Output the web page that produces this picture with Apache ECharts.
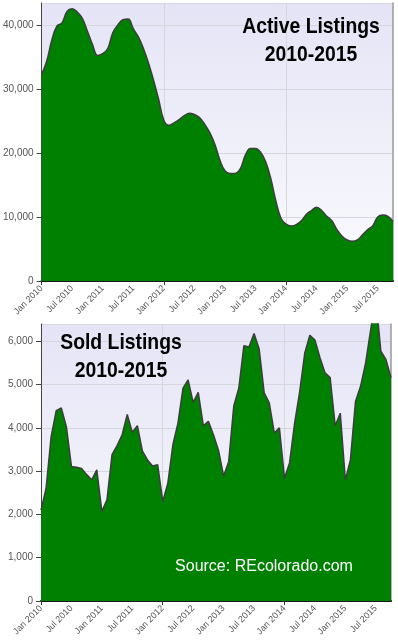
<!DOCTYPE html>
<html>
<head>
<meta charset="utf-8">
<title>Active / Sold Listings 2010-2015</title>
<script src="https://cdn.jsdelivr.net/npm/echarts@6/dist/echarts.min.js"></script>
<style>
  html, body { margin: 0; padding: 0; background: #fff; }
  #chart { width: 398px; height: 640px; }
</style>
</head>
<body>
<div id="chart"></div>
<script>
  // month labels, Jan 2010 .. Oct 2015
  const monthNames = ['Jan', 'Feb', 'Mar', 'Apr', 'May', 'Jun', 'Jul', 'Aug', 'Sep', 'Oct', 'Nov', 'Dec']
  const years = [2010, 2011, 2012, 2013, 2014, 2015]
  const categories = []
  years.forEach(y => monthNames.forEach(m => categories.push(m + ' ' + y)))
  categories.length = 70

  // active listings per month
  const activeListings = [
    32200, 34300, 37600, 39800, 40300, 42100, 42500, 42000, 41000, 39000, 36900, 35200,
    35500, 36300, 38800, 40000, 40800, 40900, 39400, 38100, 36300, 34000, 31300, 28300,
    25100, 24300, 24700, 25200, 25800, 26200, 26000, 25500, 24500, 23200, 21400, 18900,
    17200, 16800, 16800, 17500, 19600, 20700, 20700, 20100, 18600, 16000, 12500, 9800,
    8900, 8600, 8800, 9400, 10400, 11000, 11500, 11000, 10100, 9400, 8000, 7000,
    6400, 6200, 6400, 7200, 8000, 8600, 10000, 10300, 10100, 9300
  ]

  // sold listings per month
  const soldListings = [
    2100, 2600, 3800, 4400, 4460, 4030, 3110, 3090, 3060, 2920, 2800, 3030,
    2070, 2340, 3380, 3590, 3840, 4310, 3900, 4050, 3460, 3260, 3120, 3150,
    2300, 2720, 3610, 4110, 4920, 5110, 4590, 4820, 4050, 4150, 3840, 3480,
    2890, 3220, 4500, 4920, 5900, 5870, 6180, 5830, 4810, 4580, 3880, 4000,
    2840, 3190, 4110, 4840, 5730, 6140, 6030, 5620, 5270, 5160, 4050, 4340,
    2800, 3260, 4610, 4960, 5500, 6270, 7000, 5770, 5580, 5160
  ]

  // axis ranges
  const activeMax = 43400
  const activeStep = 10000
  const soldMax = 6400
  const soldStep = 1000

  const fontFamily = 'Arial, sans-serif'
  const gridLineColor = '#d6d6de'

  const chart = echarts.init(document.getElementById('chart'))

  const plotBg = new echarts.graphic.LinearGradient(0, 0, 0, 1, [
    { offset: 0, color: '#e4e4f6' },
    { offset: 1, color: '#fbfbfe' }
  ])

  // x轴
  const makeXAxis = (gridIndex) => ({
    type: 'category',
    gridIndex,
    data: categories,
    boundaryGap: false,
    axisLine: { lineStyle: { color: '#1a1a1a', width: 2 } },
    axisTick: { interval: (i) => i % 24 === 0, length: 4, lineStyle: { color: '#333' } },
    axisLabel: { interval: 5, rotate: 45, fontSize: 9, color: '#555', margin: 6, fontFamily },
    splitLine: { show: true, interval: (i) => i % 24 === 0, lineStyle: { color: gridLineColor } }
  })

  // y轴
  const makeYAxis = (gridIndex, max, step) => ({
    type: 'value',
    gridIndex,
    min: 0,
    max,
    interval: step,
    axisLine: { show: true, lineStyle: { color: '#444' } },
    axisTick: { show: true, length: 5, lineStyle: { color: '#444' } },
    axisLabel: { showMaxLabel: false, color: '#555', fontSize: 10, margin: 8, fontFamily },
    splitLine: { lineStyle: { color: gridLineColor } }
  })

  // right border of each plot
  const makeBorderAxis = (gridIndex, max) => ({
    type: 'value',
    gridIndex,
    position: 'right',
    min: 0,
    max,
    axisLine: { show: true, lineStyle: { color: '#9a9a9a', width: 1.5 } },
    axisTick: { show: false },
    axisLabel: { show: false },
    splitLine: { show: false }
  })

  const areaSeries = (idx, data, smooth) => ({
    type: 'line',
    xAxisIndex: idx,
    yAxisIndex: idx,
    data,
    smooth,
    symbol: 'none',
    lineStyle: { color: '#3d3d3d', width: 1.5 },
    areaStyle: { color: '#008000', opacity: 1 },
    z: 2
  })

  // title text is a bit condensed in the original
  const titleStyle = (text) => ({
    text, fill: '#000', fontFamily, fontSize: 22, fontWeight: 'bold',
    lineHeight: 28, align: 'center', verticalAlign: 'middle'
  })

  const option = {
    animation: false,
    backgroundColor: '#fff',
    grid: [
      { left: 41, right: 5, top: 3, height: 278, show: true, backgroundColor: plotBg, borderWidth: 0 },
      { left: 41, right: 7, top: 324, height: 277, show: true, backgroundColor: plotBg, borderWidth: 0 }
    ],
    xAxis: [makeXAxis(0), makeXAxis(1)],
    yAxis: [
      makeYAxis(0, activeMax, activeStep),
      makeYAxis(1, soldMax, soldStep),
      makeBorderAxis(0, activeMax),
      makeBorderAxis(1, soldMax)
    ],
    series: [
      areaSeries(0, activeListings, 0.4),
      areaSeries(1, soldListings, false)
    ],
    graphic: [
      { type: 'text', x: 311, y: 41, z: 100, scaleX: 0.88, style: titleStyle('Active Listings\n2010-2015') },
      { type: 'text', x: 121, y: 357, z: 100, scaleX: 0.88, style: titleStyle('Sold Listings\n2010-2015') },
      {
        type: 'text', x: 264, y: 567, z: 100,
        style: {
          text: 'Source: REcolorado.com', fill: '#fff', fontFamily,
          fontSize: 16, align: 'center', verticalAlign: 'middle'
        }
      }
    ]
  }

  chart.setOption(option)
</script>
</body>
</html>
